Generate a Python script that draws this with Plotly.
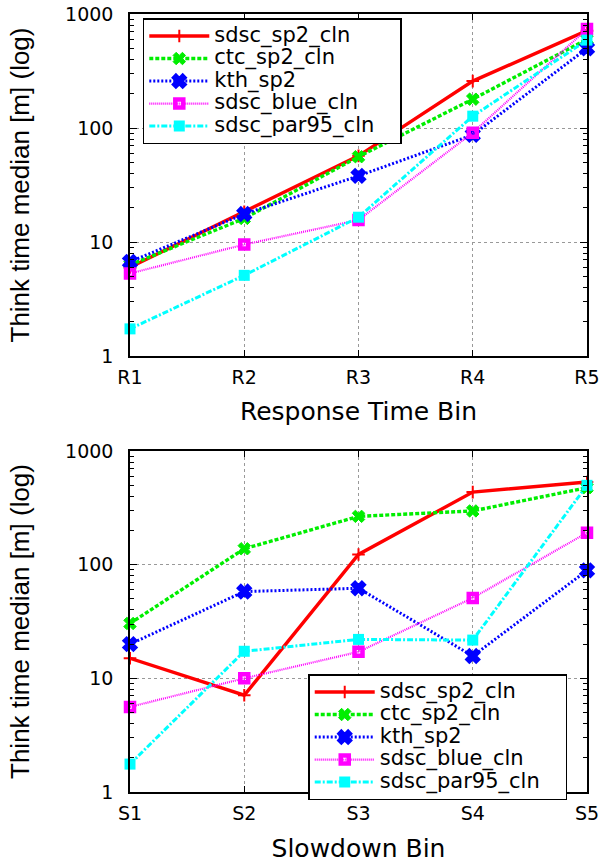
import plotly.graph_objects as go
from plotly.subplots import make_subplots

names = ["sdsc_sp2_cln", "ctc_sp2_cln", "kth_sp2", "sdsc_blue_cln", "sdsc_par95_cln"]
resp_bins = ["R1", "R2", "R3", "R4", "R5"]
slow_bins = ["S1", "S2", "S3", "S4", "S5"]

resp_sdsc_sp2 = [6.0, 18.4, 57, 258, 714]
resp_ctc_sp2 = [6.3, 16.1, 56, 179, 600]
resp_kth_sp2 = [6.7, 17.6, 38, 87, 500]
resp_sdsc_blue = [5.3, 9.5, 15.6, 91, 738]
resp_sdsc_par95 = [1.73, 5.1, 16.5, 127, 590]

slow_sdsc_sp2 = [15.0, 7.1, 123, 435, 533]
slow_ctc_sp2 = [30.4, 138, 266, 297, 476]
slow_kth_sp2 = [20, 58, 62, 15.7, 89]
slow_sdsc_blue = [5.6, 10, 17.1, 51, 191]
slow_sdsc_par95 = [1.76, 17.3, 22, 21.7, 499]

resp = [resp_sdsc_sp2, resp_ctc_sp2, resp_kth_sp2, resp_sdsc_blue, resp_sdsc_par95]
slow = [slow_sdsc_sp2, slow_ctc_sp2, slow_kth_sp2, slow_sdsc_blue, slow_sdsc_par95]

styles = [
    dict(line=dict(color="#ff0000", width=3.4, dash="solid"),
         marker=dict(symbol="cross-thin", size=9, color="#ff0000", line=dict(color="#ff0000", width=2))),
    dict(line=dict(color="#00ee00", width=3.4, dash="4px,2px"),
         marker=dict(symbol="x", size=11, color="#00ee00", line=dict(color="#00ee00", width=1))),
    dict(line=dict(color="#0000ff", width=3, dash="2px,2px"),
         marker=dict(symbol="x", size=12, color="#0000ff", line=dict(color="#0000ff", width=2))),
    dict(line=dict(color="#ff00ff", width=2.2, dash="1px,1px"),
         marker=dict(symbol="square-open", size=8, color="#ff00ff", line=dict(color="#ff00ff", width=4.5))),
    dict(line=dict(color="#00ffff", width=3, dash="6px,2px,2px,2px"),
         marker=dict(symbol="square", size=11, color="#00ffff")),
]

WIDE = "DejaVu Sans, Verdana, sans-serif"
NARROW = "Liberation Sans, Arial, sans-serif"

fig = make_subplots(rows=2, cols=1, vertical_spacing=0.122)
fig.update_layout(
    width=602, height=863,
    margin=dict(l=130, r=15, t=14, b=71, autoexpand=False),
    paper_bgcolor="white", plot_bgcolor="white",
    font=dict(family=WIDE, size=19, color="black"),
)
fig.update_layout(yaxis=dict(domain=[0.5604, 1.0]), yaxis2=dict(domain=[0.0, 0.4383]))


def legend_name(nm):
    return '<span style="font-size:21px">%s&nbsp;&nbsp;&nbsp;</span>' % nm


for i, nm in enumerate(names):
    s = styles[i]
    fig.add_trace(go.Scatter(x=resp_bins, y=resp[i], mode="lines+markers",
                             name=legend_name(nm),
                             line=s["line"], marker=s["marker"], cliponaxis=False,
                             legend="legend"), row=1, col=1)
for i, nm in enumerate(names):
    s = styles[i]
    fig.add_trace(go.Scatter(x=slow_bins, y=slow[i], mode="lines+markers",
                             name=legend_name(nm),
                             line=s["line"], marker=s["marker"], cliponaxis=False,
                             legend="legend2"), row=2, col=1)

xcommon = dict(showline=True, mirror="ticks", linecolor="black", linewidth=1.5,
               ticks="inside", ticklen=6, tickcolor="black",
               showgrid=True, gridcolor="#999999", griddash="dot", gridwidth=1,
               tickfont=dict(size=19, family=WIDE), range=[0, 4], zeroline=False,
               ticklabelstandoff=3, automargin=False)
ycommon = dict(type="log", range=[0, 3], showline=True, mirror="ticks", linecolor="black",
               linewidth=1.5, ticks="inside", ticklen=7, tickcolor="black",
               showgrid=True, gridcolor="#999999", griddash="dot", gridwidth=1,
               tickvals=[1, 10, 100, 1000], ticktext=["1", "10", "100", "1000"],
               tickfont=dict(size=19, family=WIDE), ticklabelstandoff=11, automargin=False,
               minor=dict(ticks="inside", ticklen=4, tickcolor="black",
                          tickvals=[m * 10 ** d for d in range(3) for m in range(2, 10)],
                          showgrid=False),
               title=dict(text="Think time median [m] (log)",
                          font=dict(size=26, family=NARROW), standoff=28))

fig.update_xaxes(**xcommon)
fig.update_yaxes(**ycommon)
fig.update_xaxes(title=dict(text="Response Time Bin", font=dict(size=25, family=WIDE), standoff=16),
                 row=1, col=1)
fig.update_xaxes(title=dict(text="Slowdown Bin", font=dict(size=25, family=WIDE), standoff=17),
                 row=2, col=1)

legstyle = dict(bgcolor="white", bordercolor="black", borderwidth=1.5,
                font=dict(size=15, family=WIDE), tracegroupgap=0,
                itemwidth=60, xanchor="left", yanchor="top")
fig.update_layout(
    legend=dict(x=0.028, y=0.9945, **legstyle),
    legend2=dict(x=0.39, y=0.1513, **legstyle),
)

fig.write_html("out.html")
